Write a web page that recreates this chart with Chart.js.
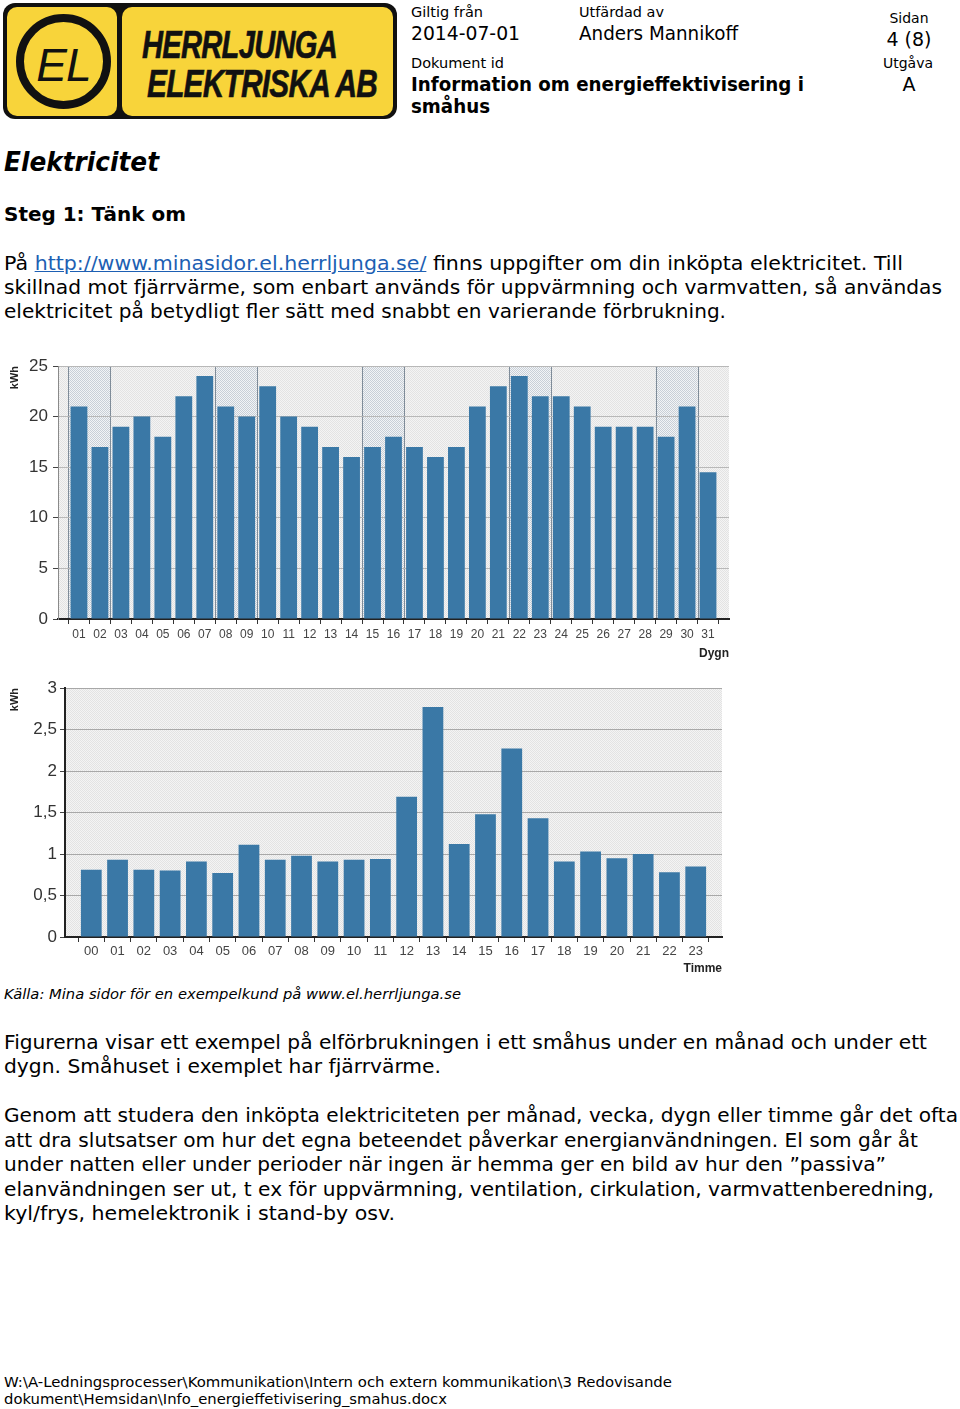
<!DOCTYPE html>
<html lang="sv">
<head>
<meta charset="utf-8">
<title>Elektricitet</title>
<script src="https://cdn.jsdelivr.net/npm/chart.js@4.4.0/dist/chart.umd.min.js"></script>
<style>
  html, body { margin: 0; padding: 0; background: #fff; }
  body { width: 960px; height: 1409px; position: relative; overflow: hidden;
         font-family: "DejaVu Sans", Verdana, sans-serif; color: #000; }
  .t { position: absolute; white-space: nowrap; line-height: 1; transform-origin: 0 50%; }
  .c { position: absolute; white-space: nowrap; line-height: 1; text-align: center; }
  .s14 { font-size: 14px; }
  .s19 { font-size: 19px; }
  .b { font-weight: bold; }
  .i { font-style: italic; }
  a { color: #1d5fb3; text-decoration: underline; }

  #logo { position: absolute; left: 3px; top: 3px; width: 394px; height: 116px;
          background: #111; border-radius: 12px; }
  .panel { position: absolute; background: #f8d43a; border-radius: 10px; }
  #pl { left: 4px; top: 4px; width: 110px; height: 109px; }
  #pr { left: 119px; top: 4px; width: 271px; height: 109px; }
  #ring { position: absolute; left: 9px; top: 7px; width: 79px; height: 79px;
          border: 8px solid #111; border-radius: 50%; }
  #ring span { position: absolute; left: 0; right: 0; top: 16px; text-align: center;
               font: italic 46px "Liberation Sans", Arial, sans-serif; color: #111; letter-spacing: -1px; }
  .brand { position: absolute; font: italic bold 39px "Liberation Sans", Arial, sans-serif;
           color: #111; white-space: nowrap; line-height: 1; transform-origin: 0 50%; letter-spacing: -1px;
           -webkit-text-stroke: 0.6px #111; }

  .chartbox { position: absolute; left: 0; }
  #box1 { top: 350px; width: 740px; height: 320px; }
  #box2 { top: 670px; width: 735px; height: 310px; }
</style>
</head>
<body>

<div id="logo">
  <div class="panel" id="pl"><div id="ring"><span>EL</span></div></div>
  <div class="panel" id="pr"></div>
  <div class="brand fit" data-w="195" style="left:139px; top:22px;">HERRLJUNGA</div>
  <div class="brand fit" data-w="230" style="left:144px; top:61px;">ELEKTRISKA AB</div>
</div>

<div class="t s14 fit" data-w="72" style="left:411px; top:5px;">Giltig från</div>
<div class="t s19 fit" data-w="109" style="left:411px; top:24px;">2014-07-01</div>
<div class="t s14 fit" data-w="85" style="left:579px; top:5px;">Utfärdad av</div>
<div class="t s19 fit" data-w="159" style="left:579px; top:24px;">Anders Mannikoff</div>
<div class="c s14" style="left:869px; width:80px; top:11px;">Sidan</div>
<div class="c s19" style="left:869px; width:80px; top:30px;">4 (8)</div>
<div class="t s14 fit" data-w="93" style="left:411px; top:56px;">Dokument id</div>
<div class="c s14" style="left:868px; width:80px; top:56px;">Utgåva</div>
<div class="t s19 b fit" data-w="393" style="left:411px; top:75px;">Information om energieffektivisering i</div>
<div class="c s19" style="left:869px; width:80px; top:75px;">A</div>
<div class="t s19 b fit" data-w="79" style="left:411px; top:97px;">småhus</div>

<div class="t b i fit" data-w="155" style="left:4px; top:149px; font-size:26px;">Elektricitet</div>
<div class="t s19 b fit" data-w="182" style="left:4px; top:205px;">Steg 1: Tänk om</div>

<div class="t s19 fit" data-w="899" style="left:4px; top:254px;">På <a href="#">http://www.minasidor.el.herrljunga.se/</a> finns uppgifter om din inköpta elektricitet. Till</div>
<div class="t s19 fit" data-w="938" style="left:4px; top:278px;">skillnad mot fjärrvärme, som enbart används för uppvärmning och varmvatten, så användas</div>
<div class="t s19 fit" data-w="722" style="left:4px; top:302px;">elektricitet på betydligt fler sätt med snabbt en varierande förbrukning.</div>

<div class="chartbox" id="box1"><canvas id="dailyChart"></canvas></div>
<div class="chartbox" id="box2"><canvas id="hourlyChart"></canvas></div>

<div class="t s14 i fit" data-w="457" style="left:4px; top:987px;">Källa: Mina sidor för en exempelkund på www.el.herrljunga.se</div>

<div class="t s19 fit" data-w="923" style="left:4px; top:1033px;">Figurerna visar ett exempel på elförbrukningen i ett småhus under en månad och under ett</div>
<div class="t s19 fit" data-w="437" style="left:4px; top:1057px;">dygn. Småhuset i exemplet har fjärrvärme.</div>

<div class="t s19 fit" data-w="954" style="left:4px; top:1106px;">Genom att studera den inköpta elektriciteten per månad, vecka, dygn eller timme går det ofta</div>
<div class="t s19 fit" data-w="914" style="left:4px; top:1131px;">att dra slutsatser om hur det egna beteendet påverkar energianvändningen. El som går åt</div>
<div class="t s19 fit" data-w="882" style="left:4px; top:1155px;">under natten eller under perioder när ingen är hemma ger en bild av hur den ”passiva”</div>
<div class="t s19 fit" data-w="930" style="left:4px; top:1180px;">elanvändningen ser ut, t ex för uppvärmning, ventilation, cirkulation, varmvattenberedning,</div>
<div class="t s19 fit" data-w="391" style="left:4px; top:1204px;">kyl/frys, hemelektronik i stand-by osv.</div>

<div class="t s14 fit" data-w="668" style="left:4px; top:1375px;">W:\A-Ledningsprocesser\Kommunikation\Intern och extern kommunikation\3 Redovisande</div>
<div class="t s14 fit" data-w="443" style="left:4px; top:1392px;">dokument\Hemsidan\Info_energieffetivisering_smahus.docx</div>

<script>
// daily consumption (one month)
const dayLabels = ['01', '02', '03', '04', '05', '06', '07', '08', '09', '10', '11', '12', '13', '14', '15', '16',
  '17', '18', '19', '20', '21', '22', '23', '24', '25', '26', '27', '28', '29', '30', '31'];
const dailyKwh = [21, 17, 19, 20, 18, 22, 24, 21, 20, 23, 20, 19, 17, 16, 17, 18,
  17, 16, 17, 21, 23, 24, 22, 22, 21, 19, 19, 19, 18, 21, 14.5];
const weekendDays = ['01', '02', '08', '09', '15', '16', '22', '23', '29', '30'];
const dailyTicks = [0, 5, 10, 15, 20, 25];

// hourly consumption (one day)
const hourLabels = ['00', '01', '02', '03', '04', '05', '06', '07', '08', '09', '10', '11',
  '12', '13', '14', '15', '16', '17', '18', '19', '20', '21', '22', '23'];
const hourlyKwh = [0.81, 0.93, 0.81, 0.80, 0.91, 0.77, 1.11, 0.93, 0.98, 0.91, 0.93, 0.94,
  1.69, 2.77, 1.12, 1.48, 2.27, 1.43, 0.91, 1.03, 0.95, 1.00, 0.78, 0.85];
const hourlyTicks = [0, 0.5, 1, 1.5, 2, 2.5, 3];

const barColor = '#3a78a6';
const axisFont = { family: '"Liberation Sans Narrow", "Liberation Sans", Arial, sans-serif' };

// stretch each text line to the width it has in the document
document.querySelectorAll('.fit').forEach((el) => {
  const target = Number(el.dataset.w);
  const w = el.getBoundingClientRect().width;
  if (w > 0) el.style.transform = `scaleX(${target / w})`;
});

function dotPattern(base, dot) {
  const c = document.createElement('canvas');
  c.width = 2;
  c.height = 2;
  const g = c.getContext('2d');
  g.fillStyle = base;
  g.fillRect(0, 0, 2, 2);
  g.fillStyle = dot;
  g.fillRect(0, 0, 1, 1);
  g.fillRect(1, 1, 1, 1);
  return g.createPattern(c, 'repeat');
}

// grey plot area, weekend bands for the month view
const plotBackground = {
  id: 'plotBackground',
  beforeDraw(chart, args, opts) {
    const { ctx, chartArea: a } = chart;
    const x = chart.scales.x;
    const labels = x.getLabels();
    ctx.save();
    ctx.fillStyle = dotPattern('#f4f4f4', '#e3e3e3');
    ctx.fillRect(a.left, a.top, a.width, a.height);
    const days = opts.weekend || [];
    if (days.length) {
      const step = x.getPixelForValue(1) - x.getPixelForValue(0);
      ctx.fillStyle = dotPattern('#f2f4f6', '#c8cfd7');
      days.forEach((d) => {
        const cx = x.getPixelForValue(labels.indexOf(d));
        ctx.fillRect(cx - step / 2, a.top, step, a.height);
      });
      ctx.strokeStyle = '#7f8c99';
      ctx.lineWidth = 1;
      days.forEach((d) => {
        const i = labels.indexOf(d);
        const cx = x.getPixelForValue(i);
        const edges = [];
        if (!days.includes(labels[i - 1])) edges.push(cx - step / 2);
        if (!days.includes(labels[i + 1])) edges.push(cx + step / 2);
        edges.forEach((ex) => {
          ctx.beginPath();
          ctx.moveTo(Math.round(ex) + 0.5, a.top);
          ctx.lineTo(Math.round(ex) + 0.5, a.bottom);
          ctx.stroke();
        });
      });
    }
    ctx.restore();
  },
};

function makeChart(id, labels, values, cfg) {
  const ctx = document.getElementById(id).getContext('2d');
  return new Chart(ctx, {
    type: 'bar',
    data: {
      labels: ['', ...labels, ''],
      datasets: [{
        data: [null, ...values, null],
        backgroundColor: barColor,
        borderWidth: 0,
        barPercentage: cfg.barPct,
        categoryPercentage: 1,
      }],
    },
    options: {
      responsive: true,
      maintainAspectRatio: false,
      animation: false,
      layout: { padding: cfg.padding },
      plugins: {
        legend: { display: false },
        tooltip: { enabled: false },
        plotBackground: { weekend: cfg.weekend },
      },
      scales: {
        x: {
          offset: false,
          afterFit: (scale) => { scale.height = cfg.xHeight; },
          grid: { display: true, drawOnChartArea: false, tickLength: 5, tickColor: '#333', tickWidth: 1 },
          border: { display: true, color: '#222', width: 2 },
          ticks: {
            autoSkip: false, maxRotation: 0, padding: cfg.xPad, color: '#444',
            font: { ...axisFont, size: cfg.xFont },
          },
          title: {
            display: true, text: cfg.xTitle, align: 'end', color: '#222',
            font: { family: '"Liberation Sans", Arial, sans-serif', size: 12, weight: 'bold' },
            padding: { top: 0, bottom: 0 },
          },
        },
        y: {
          min: cfg.yTicks[0],
          max: cfg.yTicks[cfg.yTicks.length - 1],
          afterFit: (scale) => { scale.width = cfg.yWidth; },
          afterBuildTicks: (scale) => { scale.ticks = cfg.yTicks.map((v) => ({ value: v })); },
          grid: { color: cfg.gridColor, lineWidth: 1, tickLength: 5, tickColor: '#444' },
          border: { display: true, color: cfg.yBorder, width: cfg.yBorderWidth },
          ticks: {
            padding: cfg.yPad, color: '#333',
            font: { ...axisFont, size: 17 },
            callback: (v) => String(v).replace('.', ','),
          },
          title: {
            display: true, text: 'kWh', align: 'end', color: '#222',
            font: { family: '"Liberation Sans", Arial, sans-serif', size: 11, weight: 'bold' },
            padding: { top: 4, bottom: 0 },
          },
        },
      },
    },
    plugins: [plotBackground],
  });
}

makeChart('dailyChart', dayLabels, dailyKwh, {
  padding: { left: 4, top: 16, right: 11, bottom: 9 },
  xHeight: 42, yWidth: 54, xPad: 3, yPad: 5, xFont: 12,
  barPct: 0.8, xTitle: 'Dygn', yTicks: dailyTicks, weekend: weekendDays,
  yBorder: '#8a8a8a', yBorderWidth: 1, gridColor: '#b8b8b8',
});

makeChart('hourlyChart', hourLabels, hourlyKwh, {
  padding: { left: 4, top: 18, right: 13, bottom: 4 },
  xHeight: 39, yWidth: 61, xPad: 2, yPad: 3, xFont: 13,
  barPct: 0.79, xTitle: 'Timme', yTicks: hourlyTicks, weekend: [],
  yBorder: '#222', yBorderWidth: 2, gridColor: '#a8a8a8',
});
</script>
</body>
</html>
